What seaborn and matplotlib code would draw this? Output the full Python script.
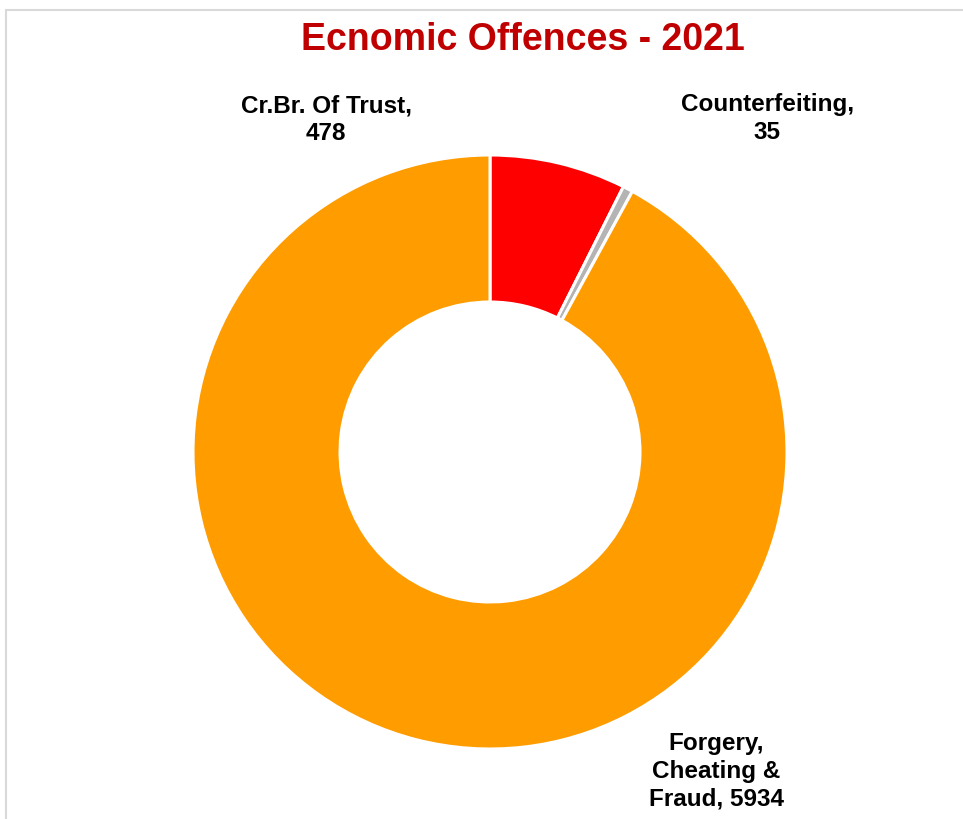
import matplotlib
matplotlib.use("Agg")
import matplotlib.pyplot as plt
import seaborn as sns
from matplotlib.patches import Rectangle

# chart data
categories = ["Cr.Br. Of Trust", "Counterfeiting", "Forgery,\nCheating &\nFraud"]
counts = [478, 35, 5934]
slice_colors = ["#FF0000", "#B4B4B4", "#FF9C00"]

sns.set_theme(style="white")
plt.rcParams['font.family'] = ['Liberation Sans', 'DejaVu Sans']

fig = plt.figure(figsize=(9.63, 8.2), dpi=100)
fig.patch.set_facecolor("white")

# light frame around the chart area (runs off right / bottom edges)
fig.patches.append(Rectangle((6 / 963, -0.05), 1.2, 1 - 11 / 820 + 0.05,
                             transform=fig.transFigure, fill=False,
                             edgecolor="#D9D9D9", linewidth=1.5))

ax = fig.add_axes([193 / 963, 70 / 820, 594 / 963, 594 / 820])
ax.pie(counts, colors=slice_colors, startangle=90, counterclock=False,
       radius=1.0, wedgeprops=dict(width=0.495, edgecolor="white", linewidth=2.2))
ax.set_xlim(-1, 1)
ax.set_ylim(-1, 1)
ax.set_aspect("equal")
ax.axis("off")

# data labels, placed like the original
label_text = [
    f"{categories[0]},\n{counts[0]}",
    f"{categories[1]},\n{counts[1]}",
    "Forgery,\nCheating &\nFraud, " + str(counts[2]),
]
label_pos = [(-0.552, 1.122), (0.933, 1.125), (0.761, -1.071)]
for txt, (x, y) in zip(label_text, label_pos):
    ax.text(x, y, txt, ha="center", va="center", fontsize=17.5, fontweight="bold",
            color="black", linespacing=1.27, clip_on=False)

fig.text(523 / 963, 1 - 40 / 820, "Ecnomic Offences - 2021", ha="center", va="center",
         fontsize=27, fontweight="bold", color="#C00000")

fig.savefig("out.png", dpi=100, facecolor="white")
